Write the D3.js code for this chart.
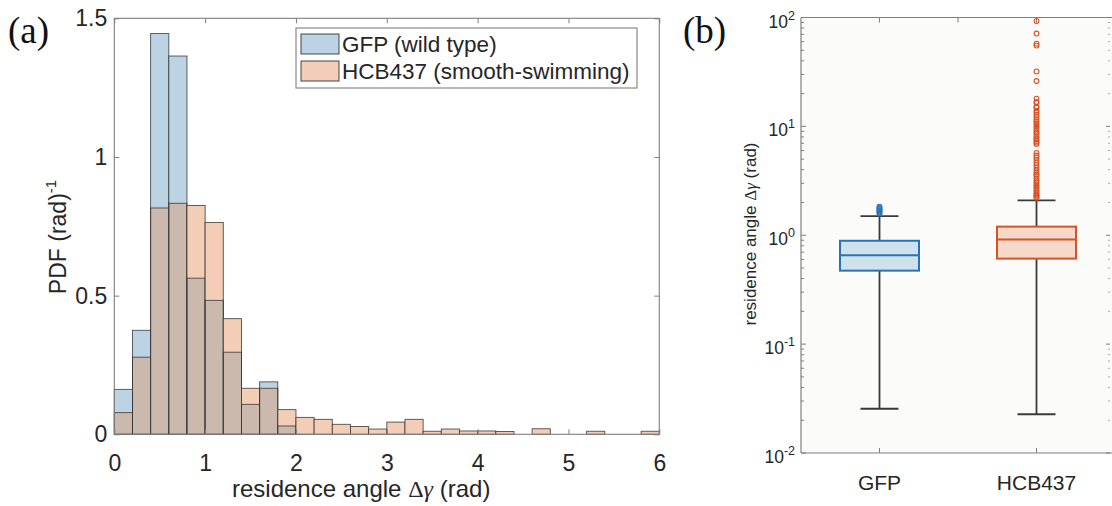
<!DOCTYPE html>
<meta charset="utf-8">
<head>
  <title>Residence angle</title>
</head>

<style>
body { margin: 0; background: #fff; }
text { font-family: "Liberation Sans", Arial, sans-serif; fill: #262626; }
.panel { font-family: "Liberation Serif", "Times New Roman", serif; fill: #111; }
</style>

<body>
  <svg width="1112" height="506"></svg>

  <script src="https://cdnjs.cloudflare.com/ajax/libs/d3/7.8.5/d3.min.js"></script>
  <script>
// ---- panel (a) data: histogram, bins of 0.2 rad
var binEdges = [0, 0.2, 0.4, 0.6, 0.8, 1.0, 1.2, 1.4, 1.6, 1.8, 2.0, 2.2, 2.4, 2.6, 2.8, 3.0,
                3.2, 3.4, 3.6, 3.8, 4.0, 4.2, 4.4, 4.6, 4.8, 5.0, 5.2, 5.4, 5.6, 5.8, 6.0]
var gfpPdf = [0.162, 0.375, 1.445, 1.364, 0.563, 0.483, 0.296, 0.108, 0.189, 0.030,
              0, 0, 0, 0, 0, 0, 0, 0, 0, 0, 0, 0, 0, 0, 0, 0, 0, 0, 0, 0]
var hcbPdf = [0.078, 0.278, 0.816, 0.833, 0.825, 0.764, 0.417, 0.166, 0.166, 0.089,
              0.061, 0.054, 0.036, 0.028, 0.019, 0.044, 0.054, 0.011, 0.019, 0.012,
              0.012, 0.010, 0, 0.020, 0, 0, 0.011, 0, 0, 0.011]
var xTicksA = [0, 1, 2, 3, 4, 5, 6]
var yTicksA = [0, 0.5, 1, 1.5]
var legendLabels = ['GFP (wild type)', 'HCB437 (smooth-swimming)']

// ---- panel (b) data: box plots
var groups = ['GFP', 'HCB437']
var whiskerLow = [0.0255, 0.0227]
var q1 = [0.473, 0.61]
var medians = [0.655, 0.913]
var q3 = [0.89, 1.20]
var whiskerHigh = [1.50, 2.09]
var gfpOutliers = [1.58, 1.62, 1.66, 1.70, 1.74, 1.78, 1.83]
var hcbOutliers = [2.21, 2.26, 2.31, 2.37, 2.44, 2.54, 2.62, 2.73, 2.82, 2.93, 3.05, 3.15,
                   3.3, 3.5, 3.62, 3.75, 3.95, 4.17, 4.4, 4.64, 4.9, 5.16, 5.4, 5.7,
                   6.9, 7.1, 7.35, 7.6, 7.8, 8.1, 8.5, 8.8, 9.1, 9.5, 9.9, 10.3, 10.7,
                   11.1, 11.6, 12.2, 12.8, 13.4, 13.9, 14.9, 15.1, 16.5, 16.8, 18.0,
                   26.1, 32, 55.2, 57.5, 71.2, 93]
var yTicksB = [0.01, 0.1, 1, 10, 100]
var yExpB = ['-2', '-1', '0', '1', '2']

var svg = d3.select('svg')
var axisCol = '#7f7f7f'

// ================= panel (a) =================
var xH = d3.scaleLinear().domain([0, 6]).range([114.3, 659.3])
var yH = d3.scaleLinear().domain([0, 1.5]).range([434.3, 18.3])

var bins = hcbPdf.map(function(h, i) {
  return { x0: binEdges[i], x1: binEdges[i + 1], g: gfpPdf[i], h: h, m: Math.min(gfpPdf[i], h) }
})

var gA = svg.append('g')

function barRect(sel, key, fill, outline) {
  var r = sel.filter(function(d) { return d[key] > 0 }).append('rect')
    .attr('x', function(d) { return xH(d.x0) })
    .attr('width', function(d) { return xH(d.x1) - xH(d.x0) })
    .attr('y', function(d) { return yH(d[key]) })
    .attr('height', function(d) { return yH(0) - yH(d[key]) })
    .attr('fill', fill)
  if (outline) r.attr('stroke', '#333').attr('stroke-width', 0.9).attr('stroke-opacity', 0.85)
}

var bar = gA.selectAll('g.bin').data(bins).enter().append('g').attr('class', 'bin')
barRect(bar, 'g', '#bcd3e3')
barRect(bar, 'h', '#f3cdb5')
barRect(bar, 'm', '#cbb9ae')
barRect(bar, 'g', 'none', true)
barRect(bar, 'h', 'none', true)

// axes (inward ticks, MATLAB box)
var axB = gA.append('g').attr('transform', 'translate(0,' + yH(0) + ')')
  .call(d3.axisBottom(xH).tickValues(xTicksA).tickSize(-5).tickPadding(20).tickFormat(d3.format('d')))
var axL = gA.append('g').attr('transform', 'translate(' + xH(0) + ',0)')
  .call(d3.axisLeft(yH).tickValues(yTicksA).tickSize(-5).tickPadding(7).tickFormat(function(d) { return d }))
var axT = gA.append('g').attr('transform', 'translate(0,' + yH(1.5) + ')')
  .call(d3.axisTop(xH).tickValues(xTicksA).tickSize(-5).tickFormat(''))
var axR = gA.append('g').attr('transform', 'translate(' + xH(6) + ',0)')
  .call(d3.axisRight(yH).tickValues(yTicksA).tickSize(-5).tickFormat(''))
;[axB, axL, axT, axR].forEach(function(a) {
  a.select('.domain').remove()
  a.selectAll('line').attr('stroke', axisCol)
  a.selectAll('text').style('font-size', '23px').attr('fill', '#262626')
})
gA.append('rect')
  .attr('x', xH(0)).attr('y', yH(1.5))
  .attr('width', xH(6) - xH(0)).attr('height', yH(0) - yH(1.5))
  .attr('fill', 'none').attr('stroke', axisCol).attr('stroke-width', 1.1)

// legend
var leg = gA.append('g').attr('transform', 'translate(296,28)')
leg.append('rect').attr('width', 341).attr('height', 60)
  .attr('fill', '#fff').attr('stroke', axisCol).attr('stroke-width', 1.1)
var legFill = ['#bcd3e3', '#f3cdb5']
legendLabels.forEach(function(t, i) {
  leg.append('rect').attr('x', 5).attr('y', 6 + i * 27).attr('width', 38).attr('height', 20)
    .attr('fill', legFill[i]).attr('stroke', '#333').attr('stroke-width', 0.9)
  leg.append('text').attr('x', 46).attr('y', 16 + i * 27).attr('dy', '0.36em')
    .style('font-size', '22.5px').text(t)
})

// axis titles
var xt = gA.append('text').attr('x', 232).attr('y', 497).style('font-size', '24px')
xt.append('tspan').text('residence angle ')
xt.append('tspan').attr('font-family', 'Liberation Serif, serif').text('\u0394')
xt.append('tspan').attr('font-family', 'Liberation Serif, serif').attr('font-style', 'italic').text('\u03b3')
xt.append('tspan').text(' (rad)')

var yt = gA.append('text').attr('transform', 'translate(66,237) rotate(-90)')
  .attr('text-anchor', 'middle').style('font-size', '23px')
yt.append('tspan').text('PDF (rad)')
yt.append('tspan').attr('dy', -10).style('font-size', '15px').text('-1')

svg.append('text').attr('class', 'panel').attr('x', 8).attr('y', 43).style('font-size', '37px').text('(a)')

// ================= panel (b) =================
var xB = d3.scaleLinear().domain([0.5, 2.5]).range([801, 1115])
var yB = d3.scaleLog().domain([0.01, 100]).range([453, 17.5])
var gB = svg.append('g')

gB.append('rect').attr('x', 801).attr('y', yB(100)).attr('width', 1112 - 801)
  .attr('height', yB(0.01) - yB(100)).attr('fill', '#fbfbf9')

// minor/major ticks on left and right
var minorVals = []
yTicksB.slice(0, 4).forEach(function(p) {
  for (var k = 2; k <= 9; k++) minorVals.push(p * k)
})
function hTicks(vals, x1, x2, col) {
  gB.append('g').selectAll('line').data(vals).enter().append('line')
    .attr('x1', x1).attr('x2', x2)
    .attr('y1', function(d) { return yB(d) }).attr('y2', function(d) { return yB(d) })
    .attr('stroke', col)
}
hTicks(minorVals, xB(0.5), xB(0.5) + 3, axisCol)
hTicks(yTicksB, xB(0.5), xB(0.5) + 5, axisCol)
hTicks(minorVals, 1110, 1108, '#aaa')
hTicks(yTicksB, 1110, 1106, axisCol)

function vTicks(vals, y1, y2) {
  gB.append('g').selectAll('line').data(vals).enter().append('line')
    .attr('x1', function(d) { return xB(d) }).attr('x2', function(d) { return xB(d) })
    .attr('y1', y1).attr('y2', y2).attr('stroke', axisCol)
}
vTicks([1, 1.5, 2], yB(100), yB(100) + 5)
vTicks([1, 2], yB(0.01), yB(0.01) - 5)

// axis lines
gB.append('line').attr('x1', xB(0.5)).attr('x2', xB(0.5)).attr('y1', yB(100)).attr('y2', yB(0.01))
  .attr('stroke', axisCol).attr('stroke-width', 1.2)
gB.append('line').attr('x1', xB(0.5)).attr('x2', 1112).attr('y1', yB(0.01)).attr('y2', yB(0.01))
  .attr('stroke', axisCol).attr('stroke-width', 1.2)
gB.append('line').attr('x1', xB(0.5)).attr('x2', 1112).attr('y1', yB(100)).attr('y2', yB(100))
  .attr('stroke', axisCol).attr('stroke-width', 1.2)

// tick labels 10^n
yTicksB.forEach(function(v, i) {
  var t = gB.append('text').attr('x', 795).attr('y', yB(v) + 10)
    .attr('text-anchor', 'end').style('font-size', '17.5px')
  t.append('tspan').text('10')
  t.append('tspan').attr('dy', -8).style('font-size', '12.5px').text(yExpB[i])
})

// category labels
groups.forEach(function(g, i) {
  gB.append('text').attr('x', xB(i + 1)).attr('y', 490).attr('text-anchor', 'middle')
    .style('font-size', '21px').text(g)
})

// y title
var ytb = gB.append('text').attr('transform', 'translate(756,234) rotate(-90)')
  .attr('text-anchor', 'middle').style('font-size', '17px')
ytb.append('tspan').text('residence angle ')
ytb.append('tspan').attr('font-family', 'Liberation Serif, serif').text('\u0394')
ytb.append('tspan').attr('font-family', 'Liberation Serif, serif').attr('font-style', 'italic').text('\u03b3')
ytb.append('tspan').text(' (rad)')

svg.append('text').attr('class', 'panel').attr('x', 683).attr('y', 43).style('font-size', '37px').text('(b)')

// boxes
var boxStroke = ['#2b72b4', '#d75327']
var boxFill = ['#cde2ec', '#f6d9c8']
var boxHalf = 39.5, capHalf = 19
groups.forEach(function(g, i) {
  var cx = xB(i + 1)
  gB.append('line').attr('x1', cx).attr('x2', cx).attr('y1', yB(whiskerHigh[i])).attr('y2', yB(whiskerLow[i]))
    .attr('stroke', '#3a3a3a').attr('stroke-width', 1.8)
  ;[whiskerHigh[i], whiskerLow[i]].forEach(function(w) {
    gB.append('line').attr('x1', cx - capHalf).attr('x2', cx + capHalf).attr('y1', yB(w)).attr('y2', yB(w))
      .attr('stroke', '#3a3a3a').attr('stroke-width', 1.8)
  })
  gB.append('rect').attr('x', cx - boxHalf).attr('width', 2 * boxHalf)
    .attr('y', yB(q3[i])).attr('height', yB(q1[i]) - yB(q3[i]))
    .attr('fill', boxFill[i]).attr('stroke', boxStroke[i]).attr('stroke-width', 2)
  gB.append('line').attr('x1', cx - boxHalf).attr('x2', cx + boxHalf)
    .attr('y1', yB(medians[i])).attr('y2', yB(medians[i]))
    .attr('stroke', boxStroke[i]).attr('stroke-width', 2)
})

var outl = [gfpOutliers, hcbOutliers]
outl.forEach(function(arr, i) {
  gB.append('g').selectAll('circle').data(arr).enter().append('circle')
    .attr('cx', xB(i + 1)).attr('cy', function(d) { return yB(d) }).attr('r', 2.4)
    .attr('fill', 'none').attr('stroke', boxStroke[i]).attr('stroke-width', 1.1)
})
  </script>
</body>
</html>
